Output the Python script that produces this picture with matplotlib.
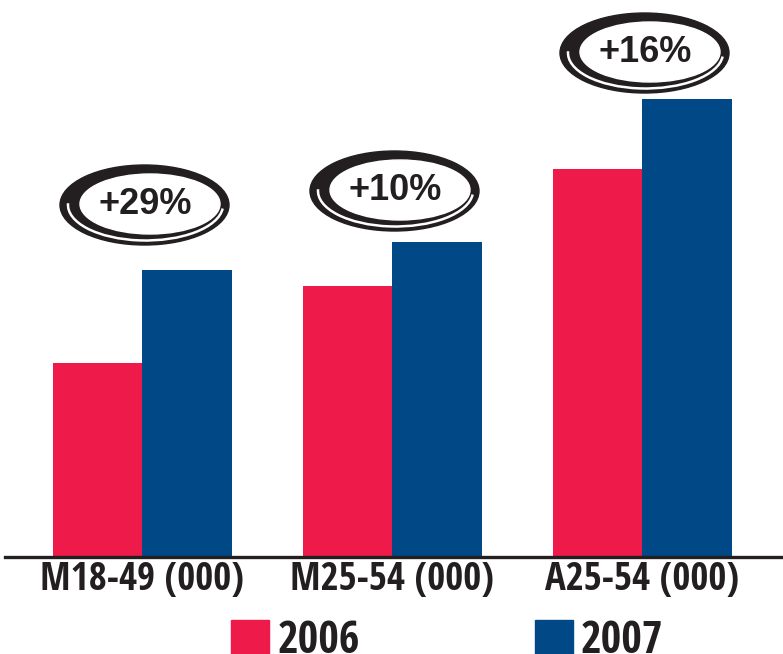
import matplotlib
matplotlib.use("Agg")
import matplotlib.pyplot as plt
from matplotlib.patches import Ellipse, Arc, Patch
import numpy as np

categories = ["M18-49 (000)", "M25-54 (000)", "A25-54 (000)"]
years = ["2006", "2007"]
values_2006 = [194, 271, 388]
values_2007 = [287, 315, 458]
growth_labels = ["+29%", "+10%", "+16%"]

pink = "#ee1a4a"
blue = "#004986"
ink = "#231f20"

narrow = ["Open Sans Condensed", "DejaVu Sans"]
plain = ["Liberation Sans", "DejaVu Sans"]

fig = plt.figure(figsize=(7.83, 6.54), dpi=100)
ax = fig.add_axes([0, 97 / 654, 1, 557 / 654])

x = np.arange(len(categories))
w = 0.358
ax.bar(x - w / 2, values_2006, w, color=pink, align="center")
ax.bar(x + w / 2, values_2007, w, color=blue, align="center")

ax.set_xlim(-0.568, 2.564)
ax.set_ylim(0, 557)
for s in ax.spines.values():
    s.set_visible(False)
ax.axhline(0, xmin=0.006, xmax=1, color=ink, lw=2.4, clip_on=False)
ax.set_yticks([])
ax.set_xticks(x)
ax.set_xticklabels(categories, family=narrow, fontweight="bold",
                   fontsize=28, color=ink)
ax.tick_params(axis="x", length=0, pad=2)

# swoosh badges above each group
gaps = [65, 51, 46]
for i, lab in enumerate(growth_labels):
    cx = x[i] + 0.01
    cy = max(values_2006[i], values_2007[i]) + gaps[i]
    ax.add_patch(Ellipse((cx, cy), 0.676, 80, color=ink, zorder=3))
    ax.add_patch(Ellipse((cx + 0.022, cy + 1), 0.56, 60, color="white", zorder=4))
    ax.add_patch(Arc((cx + 0.004, cy), 0.62, 71, theta1=100, theta2=275,
                     color="white", lw=1.8, zorder=4))
    ax.text(cx + 0.004, cy + 1, lab, ha="center", va="center", family=plain,
            fontweight="bold", fontsize=26, color=ink, zorder=5)

handles = [Patch(color=pink), Patch(color=blue)]
leg = fig.legend(handles, years, loc="upper center",
                 bbox_to_anchor=(0.5715, 1 - 597 / 654), ncol=2, frameon=False,
                 handlelength=0.85, handleheight=0.85, handletextpad=0.18,
                 columnspacing=3.95, borderpad=0,
                 prop={"family": narrow, "weight": "bold", "size": 32})
for t in leg.get_texts():
    t.set_color(ink)

fig.savefig("out.png", dpi=100)
